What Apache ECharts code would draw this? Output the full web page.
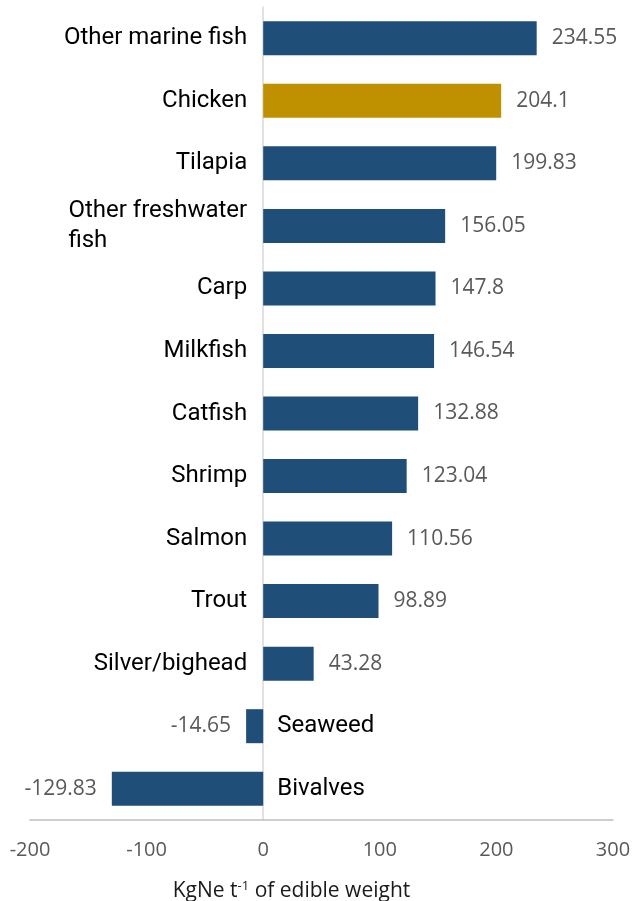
<!DOCTYPE html>
<html>
<head>
<meta charset="utf-8">
<script src="https://cdn.jsdelivr.net/npm/echarts@6/dist/echarts.min.js"></script>
<style>
  html, body { margin: 0; padding: 0; background: #fff; }
  #chart { width: 632px; height: 901px; }
</style>
</head>
<body>
<div id="chart"></div>
<script>
// categories, top to bottom
const categories = [
  'Other marine fish', 'Chicken', 'Tilapia', 'Other freshwater\nfish', 'Carp',
  'Milkfish', 'Catfish', 'Shrimp', 'Salmon', 'Trout', 'Silver/bighead',
  'Seaweed', 'Bivalves'
];
// KgNe per tonne of edible weight
const values = [
  234.55, 204.1, 199.83, 156.05, 147.8,
  146.54, 132.88, 123.04, 110.56, 98.89, 43.28,
  -14.65, -129.83
];
const xTicks = [-200, -100, 0, 100, 200, 300];
const highlight = 'Chicken';

const catFont = 'Roboto';
const numFont = 'Open Sans';

const gridLeft = 30, gridRight = 19;
const xMin = xTicks[0], xMax = xTicks[xTicks.length - 1];
// shift the category axis onto x = 0
const zeroOffset = (632 - gridLeft - gridRight) * (0 - xMin) / (xMax - xMin);

const chart = echarts.init(document.getElementById('chart'));

const option = {
  animation: false,
  grid: { left: gridLeft, right: gridRight, top: 7, bottom: 81, containLabel: false, outerBoundsMode: 'none' },
  xAxis: {
    type: 'value',
    min: xMin,
    max: xMax,
    interval: 100,
    axisLine: { show: true, onZero: false, lineStyle: { color: '#BFBFBF', width: 1.5 } },
    axisTick: { show: false },
    splitLine: { show: false },
    axisLabel: { color: '#595959', fontSize: 20, margin: 20, fontFamily: numFont },
    name: 'KgNe t{sup|-1} of edible weight',
    nameLocation: 'middle',
    nameGap: 60,
    nameTextStyle: {
      color: '#1a1a1a', fontSize: 21, fontFamily: numFont,
      padding: [0, 60, 0, 0],
      rich: {
        sup: { fontSize: 13, verticalAlign: 'top', padding: [0, 0, 10, 0], fontFamily: numFont, color: '#1a1a1a' }
      }
    }
  },
  yAxis: {
    type: 'category',
    data: categories,
    inverse: true,
    offset: -zeroOffset,
    axisLine: { show: true, onZero: false, lineStyle: { color: '#D9D9D9', width: 1.5 } },
    axisTick: { show: false },
    axisLabel: {
      margin: 16,
      fontSize: 24,
      fontFamily: catFont,
      color: '#000',
      formatter: (name, i) => values[i] < 0 ? '' : '{c|' + name + '}',
      rich: { c: { fontSize: 24, fontFamily: catFont, color: '#000', lineHeight: 30, align: 'left' } }
    }
  },
  series: [
    {
      type: 'bar',
      // negative bars get their value label on the left
      data: values.map(v => v < 0 ? { value: v, label: { position: 'left' } } : v),
      barWidth: 34,
      itemStyle: {
        color: p => categories[p.dataIndex] === highlight ? '#BF9000' : '#1F4E79'
      },
      label: {
        show: true,
        position: 'right',
        distance: 15,
        color: '#595959',
        fontSize: 21,
        fontFamily: numFont,
        formatter: p => String(p.value)
      }
    },
    {
      // category names for negative values, shown right of the zero line
      type: 'bar',
      barGap: '-100%',
      barWidth: 34,
      silent: true,
      itemStyle: { color: 'transparent' },
      data: values.map(v => v < 0 ? 0 : '-'),
      label: {
        show: true,
        position: 'right',
        distance: 14,
        color: '#000',
        fontSize: 24,
        fontFamily: catFont,
        formatter: p => categories[p.dataIndex]
      }
    }
  ]
};

chart.setOption(option);
</script>
</body>
</html>
